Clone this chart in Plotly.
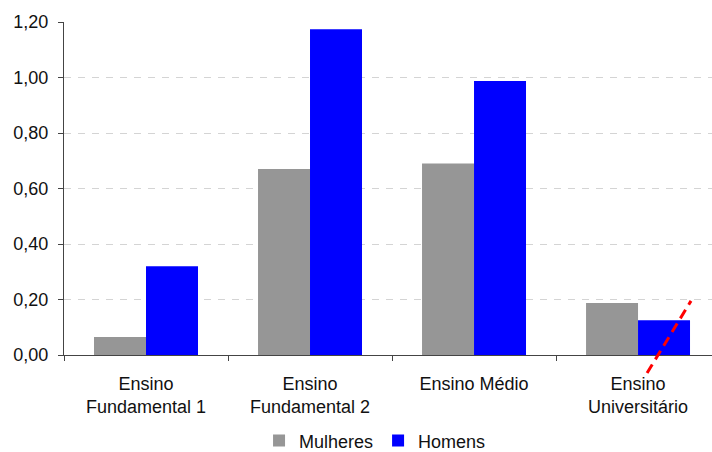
import plotly.graph_objects as go

categories = ["Ensino<br>Fundamental 1", "Ensino<br>Fundamental 2", "Ensino Médio", "Ensino<br>Universitário"]
mulheres = [0.065, 0.67, 0.69, 0.187]
homens = [0.32, 1.174, 0.987, 0.125]
y_ticks = [0, 0.2, 0.4, 0.6, 0.8, 1.0, 1.2]

# red dashed marker line (x in category units, y in data units)
red_line_x = [3.055, 3.323]
red_line_y = [-0.065, 0.195]

Y_MAX = 1.2
X_RANGE = [-0.5, 3.451]

def xpaper(v):
    return (v - X_RANGE[0]) / (X_RANGE[1] - X_RANGE[0])

fig = go.Figure()
fig.add_trace(go.Bar(x=categories, y=mulheres, name="Mulheres",
                     marker=dict(color="#969696", line=dict(width=0))))
fig.add_trace(go.Bar(x=categories, y=homens, name="Homens",
                     marker=dict(color="#0000FF", line=dict(width=0))))

fig.add_shape(type="line", xref="paper", yref="paper",
              x0=xpaper(red_line_x[0]), x1=xpaper(red_line_x[1]),
              y0=red_line_y[0] / Y_MAX, y1=red_line_y[1] / Y_MAX,
              line=dict(color="#FF0000", width=3, dash="10px,6px"))

font = dict(family="Liberation Sans, Arial, sans-serif", size=18, color="#111111")

fig.update_layout(
    width=712, height=452,
    margin=dict(l=64, r=0, t=22, b=97, autoexpand=False),
    paper_bgcolor="white", plot_bgcolor="white",
    separators=",.",
    barmode="group", bargap=0.366, bargroupgap=0,
    font=font,
    showlegend=True,
    legend=dict(orientation="h", x=0.48, xanchor="center", y=-0.258, yanchor="middle",
                font=font, itemwidth=30, traceorder="normal"),
    xaxis=dict(range=X_RANGE, showline=True, linecolor="#444444", linewidth=1,
               ticks="outside", tickson="boundaries", ticklen=5, tickcolor="#444444",
               showgrid=False, tickfont=font, fixedrange=True, automargin=False,
               ticklabelstandoff=12),
    yaxis=dict(range=[0, Y_MAX], tickvals=y_ticks, tickformat=".2f",
               showline=True, linecolor="#444444", linewidth=1,
               ticks="outside", ticklen=5, tickcolor="#444444",
               showgrid=True, gridcolor="#d4d4d4", gridwidth=1, griddash="7px,7px",
               zeroline=False, tickfont=font, ticklabelstandoff=6, automargin=False),
)

fig.write_html("out.html")
